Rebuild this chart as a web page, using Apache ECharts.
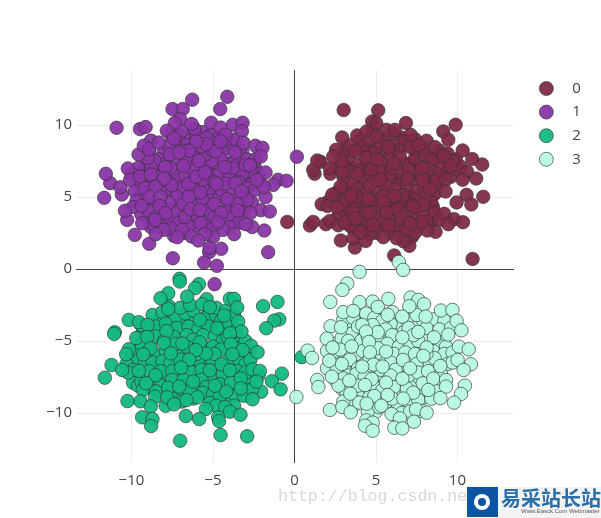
<!DOCTYPE html>
<html><head><meta charset="utf-8">
<style>html,body{margin:0;padding:0;background:#fff}#c{width:601px;height:518px}</style>
<script src="https://cdn.jsdelivr.net/npm/echarts@6/dist/echarts.min.js"></script>
</head><body><div id="c"></div>
<script>
const seriesNames = ['0','1','2','3'];
const seriesColors = ['#7f2b46','#8a36a6','#12b981','#b6fae3'];
const xTicks = [-10,-5,0,5,10];
const yTicks = [-10,-5,0,5,10];
const xRange = [-13.4,13.47];
const yRange = [-13.47,13.8];

const points0 = [
[3.5,8.2],[2.9,7.9],[3.4,7.0],[3.1,5.8],[2.6,5.3],[2.9,4.4],[3.5,4.3],[3.3,3.5],[3.6,2.8],[4.2,3.0],[4.1,3.9],[4.7,4.4],[4.1,4.8],[4.1,5.7],[3.6,5.6],[4.9,6.2],[4.4,7.2],[4.8,7.3],[5.5,8.2],[5.7,7.0],[5.5,6.6],[5.6,5.4],[5.9,5.2],[6.3,6.2],[6.6,6.1],[7.3,6.2],[7.1,7.3],[7.7,7.3],[8.4,7.1],[8.3,6.3],[9.0,6.5],[9.4,6.7],[9.4,7.5],[8.8,7.7],[8.2,8.0],[7.5,8.1],[6.5,8.4],[6.0,8.3],[4.7,8.3],[4.3,8.1],[4.8,9.6],[5.5,9.0],[6.6,9.1],[7.4,9.0],[8.4,5.0],[7.7,5.1],[7.2,5.0],[6.4,4.5],[5.9,4.4],[5.2,4.0],[5.4,3.4],[6.5,3.0],[7.6,2.9],[7.2,2.2],[6.6,2.5],[5.9,2.5],[5.2,3.0],[4.3,2.8],[4.4,3.6],[3.9,4.1],[8.4,3.4],[8.5,4.3],[7.7,4.3],[6.9,3.6],[6.3,3.9],
[4.2,8.6],[4.9,8.1],[3.3,7.6],[3.9,7.2],[4.4,7.7],[5.4,7.4],[5.9,7.9],[6.8,7.3],[7.4,7.7],[8.0,7.9],[8.5,7.5],[9.0,7.0],[8.7,6.6],[8.2,6.9],[7.4,6.7],[6.5,6.7],[5.8,6.4],[5.2,6.8],[4.3,6.3],[3.5,6.0],[3.0,6.4],[2.6,7.0],[3.2,5.2],[3.9,5.5],[4.4,5.2],[5.0,5.5],[5.6,5.8],[6.2,5.5],[6.9,5.6],[7.5,5.4],[8.0,5.7],[8.6,5.2],[8.8,5.9],[9.6,6.4],[10.0,6.9],[9.9,7.6],[10.2,7.1],[8.4,4.6],[8.0,4.9],[7.4,4.8],[6.7,4.6],[6.0,4.8],[5.2,4.3],[4.9,4.8],[4.2,4.3],[3.7,4.6],[3.1,4.0],[2.7,3.7],[3.4,3.0],[4.0,3.5],[4.5,3.3],[5.1,3.6],[5.5,3.2],[6.0,3.5],[6.2,3.0],[6.8,3.0],[7.4,3.7],[7.9,3.8],[8.6,3.9],[8.1,3.3],[8.9,3.4],[7.4,2.5],[6.9,2.7],[5.0,2.5],[4.6,2.4],[4.4,3.9],[5.8,4.2],[6.3,4.1],[7.0,4.0],[3.6,3.9],[3.0,4.7],[2.4,4.9],[2.1,4.7],[4.0,8.9],[4.6,9.0],[5.3,8.7],[6.2,8.9],[6.8,8.9],[7.3,8.4],[7.9,8.4],[8.9,8.2],[9.4,8.0],[9.7,7.5],[3.1,8.3],[3.4,8.6],[3.0,7.2],[2.2,6.6],[4.6,6.6],[6.0,7.0],[7.0,6.9],[7.8,6.4],[8.7,6.1],[5.4,5.0],[6.8,5.1],[7.2,4.4],[3.8,5.0],[3.3,6.8],[4.0,6.8],
[3.02,11.02],[5.14,11.0],[6.84,10.12],[9.89,10.0],[9.13,9.54],[9.44,8.96],[4.77,10.23],[5.02,10.12],[2.93,9.12],[3.85,9.26],[6.06,9.42],[8.11,8.89],[8.62,8.45],[10.32,8.22],[10.91,7.62],[11.52,7.24],[10.6,6.74],[11.15,6.27],[10.32,6.18],[9.29,6.18],[9.27,5.37],[10.56,5.14],[11.58,5.0],[9.95,4.61],[10.85,4.47],[9.19,3.82],[9.8,3.45],[10.34,3.24],[9.44,3.1],[8.66,2.57],[8.15,2.66],[7.8,3.26],[7.05,1.6],[6.68,1.92],[6.12,0.93],[10.93,0.69],[2.85,1.97],[3.71,1.48],[4.37,1.94],[3.61,2.13],[-0.44,3.26],[0.95,3.01],[1.15,3.26],[1.93,3.1],[2.18,3.33],[2.69,3.03],[3.1,3.22],[3.75,3.5],[1.67,4.49],[2.03,4.37],[2.32,5.16],[2.63,4.26],[2.83,5.72],[3.47,5.09],[1.24,6.6],[1.15,6.87],[1.6,7.43],[1.4,7.52],[2.18,6.97],[2.93,6.76],[2.91,7.48],[2.55,8.26],[2.38,7.8],[3.75,8.15],[3.88,6.57],[4.71,6.92],[5.24,6.18],[5.08,7.62],[5.76,8.45],[6.47,7.8],[7.09,8.45],[6.1,7.34],[6.92,6.23],[7.86,6.18],[7.82,7.0],[8.31,5.55],[9.17,7.85],[9.58,7.18],[6.61,5.07],[6.16,5.07],[5.49,4.65],[4.53,4.84],[4.63,5.79],[7.9,4.44],[7.29,4.33],[4.63,3.87],[5.65,3.91],[6.57,3.56],[4.8,3.05],[5.76,2.99],[4.02,2.52],[7.09,3.17],[5.45,2.2],[6.27,2.13],[7.6,8.6],[4.43,9.54],[5.65,9.65],[6.17,9.65],[7.13,9.3],[5.04,9.19]
];
const points1 = [
[-9.0,6.7],[-9.5,6.0],[-9.0,5.8],[-8.2,6.8],[-7.6,6.6],[-7.1,7.0],[-6.5,7.0],[-5.8,7.0],[-5.3,7.1],[-4.8,7.2],[-4.3,7.4],[-3.5,7.6],[-3.3,7.0],[-2.9,6.4],[-3.7,6.6],[-4.2,6.5],[-4.8,6.5],[-5.9,5.9],[-6.6,6.2],[-7.2,6.0],[-7.5,5.4],[-6.9,5.2],[-6.2,5.2],[-5.6,5.1],[-5.1,5.1],[-4.6,5.0],[-4.0,4.5],[-3.5,5.0],[-3.0,5.2],[-2.6,4.6],[-3.0,4.3],[-3.7,3.2],[-4.2,4.1],[-5.0,4.2],[-5.3,3.4],[-5.4,3.0],[-6.0,3.0],[-6.3,3.5],[-6.6,4.0],[-7.2,4.4],[-7.8,4.2],[-8.2,3.9],[-8.0,3.3],[-7.4,3.6],[-7.0,2.9],[-6.7,2.5],[-8.9,3.5],[-9.4,3.8],[-9.0,4.5],[-9.2,6.9],[-8.5,7.4],[-8.0,8.1],[-7.2,8.5],[-7.0,9.0],[-6.6,9.1],[-6.1,9.5],[-5.6,9.5],[-5.1,9.3],[-4.6,9.2],[-5.6,8.2],[-4.4,8.5],[-3.2,8.2],[-3.6,7.7],[-2.4,7.0],[-2.2,6.6],[-2.6,5.9],
[-8.9,8.2],[-8.3,7.6],[-7.7,8.6],[-7.1,9.3],[-6.6,8.6],[-6.0,9.2],[-5.4,9.1],[-4.9,8.7],[-4.3,8.3],[-3.9,8.7],[-3.4,8.2],[-2.9,7.6],[-2.4,7.6],[-2.7,6.8],[-3.2,6.6],[-3.8,7.3],[-4.5,7.6],[-5.1,7.5],[-5.5,7.9],[-6.2,7.7],[-6.7,7.4],[-7.4,7.6],[-8.1,7.2],[-8.6,7.5],[-9.1,7.2],[-9.6,7.0],[-10.0,6.6],[-9.2,6.4],[-8.6,6.0],[-7.9,5.5],[-7.3,6.5],[-6.7,6.5],[-6.2,6.9],[-5.2,6.5],[-4.6,6.6],[-4.0,6.3],[-3.4,6.0],[-2.9,5.6],[-2.4,5.5],[-2.1,6.0],[-2.9,4.8],[-3.5,4.5],[-4.0,5.4],[-4.5,5.5],[-5.2,5.6],[-5.6,5.7],[-6.3,5.6],[-6.8,5.6],[-7.2,5.0],[-7.7,4.6],[-8.6,4.7],[-9.4,5.3],[-9.8,5.4],[-9.7,4.7],[-9.9,4.3],[-8.9,4.0],[-8.5,3.6],[-7.6,3.4],[-7.2,3.9],[-6.8,4.5],[-6.1,4.4],[-5.6,4.7],[-5.3,4.1],[-4.9,3.6],[-4.3,3.5],[-3.8,3.6],[-3.1,3.9],[-3.4,3.2],[-4.0,2.9],[-4.4,2.7],[-5.1,2.7],[-5.0,2.2],[-6.5,3.0],[-7.1,3.2],[-7.4,2.3],[-7.6,2.8],[-8.8,2.9],[-8.6,3.0],[-6.7,3.6],[-5.9,3.6],[-8.2,5.7],[-7.7,6.0],[-6.5,5.9],[-5.6,6.2],[-4.9,6.0],[-4.2,5.9],[-3.8,7.0],[-3.0,7.2],[-8.8,7.0],[-9.0,7.7],[-7.6,7.0],[-6.9,8.2],[-6.2,8.3],[-5.7,8.5],[-5.0,8.2],[-4.1,9.0],[-3.6,9.0],[-7.6,9.4],[-6.9,9.6],[-8.8,8.9],
[-4.12,11.94],[-6.27,11.74],[-4.55,11.09],[-7.48,11.09],[-6.85,11.09],[-7.01,10.39],[-7.34,10.12],[-10.91,9.79],[-9.48,9.7],[-9.13,9.84],[-7.83,9.58],[-6.15,9.75],[-6.31,10.05],[-5.11,10.14],[-4.53,9.81],[-3.78,10.0],[-3.18,10.14],[-3.22,9.56],[-4.23,9.3],[-3.12,8.75],[-2.39,8.54],[-1.96,8.4],[-2.06,7.8],[0.15,7.78],[-1.77,6.69],[-1.0,6.18],[-0.48,6.11],[-1.3,5.83],[-1.77,4.98],[-1.88,5.67],[-2.06,4.07],[-1.51,3.98],[-2.71,3.87],[-1.85,2.66],[-2.59,2.9],[-1.61,1.16],[-3.7,2.41],[-4.49,1.39],[-5.23,1.16],[-5.21,1.46],[-5.54,0.44],[-4.76,0.21],[-7.46,0.74],[-8.91,1.74],[-9.79,2.36],[-10.26,3.4],[-10.4,4.03],[-11.67,4.93],[-10.59,5.16],[-11.3,5.95],[-11.57,6.6],[-10.22,6.97],[-10.67,5.67],[-10.08,6.18],[-9.48,6.41],[-9.56,7.94],[-9.24,8.54],[-8.91,8.31],
[-7.64,7.94],[-7.93,7.06],[-6.8,7.15],[-5.86,7.5],[-4.27,7.06],[-3.65,8.08],[-4.84,8.17],[-5.41,8.66],[-4.53,8.84],[-6.03,8.84],[-7.4,9.05],[-8.32,8.77],[-6.48,8.2],[-7.07,8.08],[-2.73,7.18],[-2.32,6.18],[-3.63,5.95],[-4.78,5.9],[-6.03,6.39],[-5.5,6.69],[-7.54,5.81],[-8.01,6.27],[-8.81,6.55],[-9.16,5.6],[-8.54,5.69],[-8.89,5.0],[-8.21,5.0],[-9.38,4.37],[-8.26,4.37],[-6.48,5.0],[-5.76,5.3],[-4.92,4.51],[-4.12,4.84],[-3.25,5.39],[-3.49,4.05],[-4.49,3.87],[-6.37,4.14],[-5.8,4.1],[-7.91,3.87],[-8.54,3.4],[-9.34,3.17],[-8.01,2.71],[-6.89,2.71],[-5.76,3.17],[-4.7,3.22],[-3.0,3.1],[-5.5,2.41],[-6.31,2.24],[-7.19,2.2],[-5.9,1.97],[-8.5,2.41],[-4.9,-1.06]
];
const points2 = [
[-8.3,-3.6],[-7.6,-3.5],[-6.9,-3.7],[-6.3,-3.5],[-5.5,-3.4],[-5.0,-3.8],[-4.3,-4.2],[-3.7,-4.8],[-3.3,-5.7],[-4.6,-5.2],[-4.2,-5.5],[-4.9,-6.3],[-5.5,-6.5],[-5.9,-6.7],[-6.5,-6.5],[-6.0,-5.0],[-6.5,-5.2],[-7.2,-5.1],[-7.7,-5.2],[-7.5,-4.3],[-8.3,-4.3],[-8.9,-5.2],[-9.0,-6.2],[-8.5,-6.2],[-8.6,-6.9],[-7.9,-6.8],[-7.2,-6.7],[-7.5,-6.0],[-6.9,-6.0],[-6.4,-5.8],[-5.7,-5.6],[-5.2,-5.5],[-4.5,-4.4],[-3.5,-5.7],[-3.6,-6.7],[-4.2,-6.8],[-4.8,-7.0],[-5.4,-7.3],[-6.0,-7.5],[-6.6,-7.4],[-7.1,-7.4],[-7.9,-7.4],[-8.4,-7.8],[-8.8,-8.2],[-8.0,-8.5],[-7.3,-8.6],[-6.6,-8.1],[-6.1,-8.4],[-5.4,-8.7],[-4.4,-7.6],[-3.9,-8.3],[-3.2,-7.1],[-2.9,-7.8],[-4.9,-9.0],[-4.3,-9.1],[-6.2,-9.0],[-6.9,-8.8],[-7.9,-9.5],[-2.9,-8.4],[-9.8,-6.0],[-9.7,-5.7],[-9.9,-7.9],[-9.6,-8.1],[-5.0,-8.6],[-5.6,-4.0],
[-8.7,-3.2],[-8.1,-3.0],[-7.3,-3.4],[-6.7,-3.1],[-6.2,-2.9],[-5.3,-3.3],[-4.8,-3.2],[-8.5,-4.0],[-7.9,-3.8],[-7.2,-4.1],[-6.5,-4.0],[-5.9,-4.2],[-5.3,-4.0],[-4.5,-3.6],[-4.0,-3.8],[-3.6,-4.3],[-9.3,-4.4],[-8.5,-4.7],[-8.0,-5.0],[-7.4,-4.7],[-6.6,-4.6],[-6.2,-4.9],[-5.6,-4.6],[-4.9,-4.7],[-4.4,-5.0],[-3.4,-5.2],[-3.0,-5.0],[-9.4,-5.2],[-8.6,-5.9],[-7.9,-5.7],[-7.1,-5.7],[-6.6,-5.4],[-5.8,-5.1],[-5.0,-5.4],[-4.5,-5.6],[-3.6,-5.5],[-2.9,-5.9],[-9.6,-6.4],[-9.2,-6.6],[-8.7,-6.5],[-8.1,-6.4],[-7.6,-6.5],[-7.0,-6.3],[-5.9,-6.3],[-5.1,-6.2],[-4.9,-5.9],[-4.0,-6.3],[-3.4,-6.3],[-3.0,-6.6],[-2.7,-6.3],[-10.3,-6.6],[-9.9,-7.0],[-8.9,-7.1],[-8.2,-7.1],[-7.5,-7.1],[-6.4,-7.1],[-5.7,-7.0],[-5.0,-7.5],[-4.4,-7.3],[-3.5,-7.1],[-3.0,-7.2],[-9.4,-7.8],[-8.7,-7.8],[-8.2,-8.1],[-7.5,-7.7],[-6.8,-7.7],[-5.7,-7.7],[-5.4,-8.2],[-4.6,-8.0],[-3.9,-7.9],[-3.3,-7.6],[-9.3,-8.4],[-8.5,-8.5],[-7.0,-8.5],[-6.4,-8.5],[-5.6,-8.6],[-5.0,-8.7],[-4.6,-8.9],[-3.6,-8.8],[-3.1,-8.8],[-7.5,-9.0],[-6.9,-9.2],[-5.2,-9.3],[-4.8,-9.5],[-3.7,-9.5],[-9.7,-4.8],[-9.4,-3.9],[-7.7,-2.6],[-7.0,-2.7],[-6.4,-2.5],[-4.8,-2.7],[-4.2,-2.9],[-3.7,-3.2],[-2.2,-7.4],[-10.2,-7.2],[-6.0,-5.9],[-7.3,-5.2],[-4.1,-4.7],
[-7.05,-0.69],[-7.03,-0.88],[-5.86,-1.06],[-6.09,-1.34],[-7.74,-1.69],[-8.21,-2.04],[-6.58,-1.92],[-5.39,-2.11],[-3.96,-2.08],[-3.7,-2.08],[-3.51,-2.68],[-1.92,-2.59],[-1.04,-2.29],[-0.93,-3.5],[-1.24,-3.59],[-1.73,-4.12],[-10.16,-3.54],[-11.02,-4.4],[-11.06,-4.51],[-9.54,-3.7],[-9.01,-3.89],[-9.03,-4.72],[-7.85,-4.31],[-7.74,-2.78],[-5.66,-2.45],[-5.19,-2.66],[-4.31,-3.24],[-5.8,-3.54],[-4.74,-4.12],[-3.45,-3.66],[-3.25,-4.35],[-3.96,-4.47],[-3.9,-5.23],[-2.65,-5.35],[-2.26,-5.79],[-3.18,-5.63],[-3.8,-5.93],[-4.47,-6.62],[-5.43,-5.88],[-6.05,-5.63],[-6.87,-5.18],[-8.01,-5.14],[-8.83,-5.51],[-10.16,-5.58],[-10.32,-5.93],[-9.28,-5.93],[-7.58,-5.86],[-6.46,-6.3],[-6.95,-6.85],[-11.22,-6.67],[-10.57,-7.01],[-11.63,-7.55],[-9.54,-7.08],[-8.52,-7.38],[-9.11,-7.94],[-7.74,-8.24],[-7.07,-8.17],[-6.21,-7.82],[-5.19,-7.04],[-3.96,-7.04],[-2.57,-6.97],[-2.12,-7.08],[-0.77,-7.27],[-1.38,-7.8],[-0.85,-8.36],[-2.04,-8.52],[-2.59,-8.36],[-2.33,-7.82],[-3.29,-8.29],[-4.19,-8.52],[-4.88,-8.1],[-5.96,-8.91],[-6.62,-9.1],[-8.56,-8.87],[-7.8,-8.91],[-10.24,-9.17],[-9.44,-9.19],[-8.81,-9.54],[-7.38,-9.4],[-5.43,-9.72],[-4.25,-9.58],[-3.96,-9.91],[-3.31,-10.12],[-2.57,-9.05],[-6.66,-10.21],[-5.84,-10.42],[-4.68,-10.3],[-4.62,-10.56],[-9.34,-10.3],[-8.71,-10.42],[-8.79,-10.9],[-7.01,-11.92],[-4.53,-11.53],[-2.9,-11.62],[0.44,-6.13]
];
const points3 = [
[3.2,-4.3],[3.7,-3.8],[4.4,-3.6],[5.2,-3.0],[5.3,-3.8],[6.2,-3.5],[6.3,-4.2],[6.6,-3.9],[7.4,-3.7],[7.9,-3.6],[8.4,-4.4],[9.2,-4.7],[9.1,-5.0],[8.4,-5.1],[7.9,-5.2],[7.0,-4.7],[6.8,-5.2],[6.0,-5.2],[5.4,-4.7],[4.9,-4.7],[4.3,-5.3],[3.7,-5.3],[3.1,-5.5],[2.5,-5.2],[2.5,-6.2],[3.1,-6.2],[3.8,-6.4],[4.4,-6.2],[5.2,-6.2],[5.6,-6.3],[6.4,-6.7],[6.8,-6.7],[7.4,-6.4],[8.0,-6.5],[9.1,-6.2],[8.9,-7.0],[8.3,-7.6],[7.4,-7.9],[6.9,-7.8],[6.3,-7.5],[5.7,-7.0],[4.7,-7.1],[4.4,-7.1],[3.6,-7.2],[3.1,-7.1],[2.9,-8.3],[3.5,-8.2],[4.1,-8.4],[5.1,-7.9],[5.9,-8.0],[6.4,-8.5],[7.3,-8.1],[8.0,-8.9],[8.6,-8.0],[5.6,-9.3],[5.0,-9.9],[6.3,-9.3],[7.0,-9.2],[3.6,-9.5],[4.1,-7.9],[3.3,-3.9],[4.7,-4.3],[5.9,-3.8],[6.7,-4.4],[8.2,-4.7],[8.8,-4.8],[7.2,-5.6],[6.5,-6.1],[5.4,-6.0],[4.1,-6.5],[3.3,-5.9],[2.4,-6.6],[3.3,-7.4],[4.9,-7.6],[6.6,-7.1],[7.8,-6.9],[8.7,-7.3],[7.7,-7.6],[6.6,-8.9],[5.5,-7.6],[4.6,-8.4],[3.2,-8.6],
[3.0,-3.5],[3.6,-3.4],[4.4,-3.1],[4.9,-3.4],[5.4,-3.6],[6.0,-3.0],[6.9,-3.5],[7.5,-3.2],[8.6,-3.5],[9.2,-3.6],[3.5,-4.5],[3.9,-4.0],[4.8,-3.9],[5.6,-4.2],[6.0,-4.6],[7.0,-4.1],[8.1,-4.1],[8.9,-4.2],[9.6,-4.1],[2.9,-4.8],[3.3,-5.0],[4.1,-5.0],[5.2,-5.1],[5.7,-5.2],[6.4,-5.4],[7.1,-5.2],[7.6,-5.0],[8.7,-5.2],[9.3,-5.4],[2.0,-5.7],[2.8,-5.6],[3.8,-5.9],[4.2,-5.7],[5.0,-5.9],[6.1,-5.9],[6.8,-5.8],[7.4,-5.9],[8.5,-5.7],[9.2,-5.9],[9.7,-5.8],[2.0,-6.9],[2.6,-6.9],[3.4,-6.3],[3.9,-6.9],[4.6,-6.3],[5.9,-6.5],[6.2,-7.0],[7.5,-6.6],[8.3,-6.6],[8.6,-6.2],[9.4,-6.6],[9.7,-6.5],[2.5,-7.7],[3.0,-7.6],[3.8,-7.3],[4.3,-7.5],[5.1,-7.3],[5.3,-7.0],[5.9,-7.4],[7.0,-7.4],[7.6,-7.2],[8.2,-7.1],[9.0,-7.3],[2.7,-8.1],[3.9,-8.1],[4.9,-8.2],[5.4,-8.4],[6.1,-8.2],[6.9,-8.3],[7.9,-8.4],[8.7,-8.5],[3.0,-9.2],[4.6,-8.9],[5.1,-9.3],[6.0,-9.0],[7.6,-9.1],[8.4,-9.0],[4.5,-9.9],[5.2,-9.6],[6.6,-10.0],[7.1,-9.9],[3.0,-3.0],[5.1,-5.5],[7.3,-4.6],[4.5,-4.7],[8.1,-5.9],
[4.0,-0.21],[6.4,0.48],[6.67,-0.07],[3.24,-1.02],[2.94,-1.46],[2.2,-2.29],[5.76,-2.08],[4.0,-2.31],[4.8,-2.27],[5.11,-2.64],[3.61,-2.92],[7.13,-1.99],[7.6,-2.15],[7.95,-2.45],[7.05,-2.59],[8.99,-2.89],[9.69,-2.85],[8.05,-3.31],[6.62,-3.31],[5.72,-3.19],[9.95,-3.61],[10.24,-4.26],[9.44,-4.56],[2.22,-3.98],[2.86,-4.05],[4.16,-3.89],[5.11,-4.4],[4.39,-4.35],[7.6,-4.38],[6.62,-4.75],[8.56,-4.75],[1.98,-4.84],[2.34,-5.46],[3.51,-5.39],[4.57,-5.07],[5.62,-5.74],[4.63,-5.79],[8.11,-5.46],[7.91,-6.04],[10.09,-5.39],[10.69,-5.58],[10.01,-6.32],[10.83,-6.62],[10.38,-7.01],[8.95,-6.74],[6.66,-6.32],[4.86,-6.64],[2.9,-6.6],[2.14,-6.37],[4.16,-6.78],[7.09,-6.9],[0.81,-5.67],[1.08,-6.18],[2.3,-7.48],[3.37,-7.75],[4.74,-7.64],[5.62,-7.89],[6.62,-7.62],[7.87,-7.94],[8.52,-7.62],[9.3,-7.71],[9.3,-8.17],[10.46,-8.1],[10.22,-8.68],[9.79,-9.28],[8.95,-8.96],[8.21,-8.4],[7.29,-8.59],[1.4,-7.71],[1.47,-8.2],[0.12,-8.89],[3.43,-8.66],[4.9,-8.82],[5.72,-8.75],[6.68,-9.0],[4.33,-8.06],[2.18,-9.79],[2.94,-9.58],[3.45,-9.95],[3.98,-9.28],[4.43,-9.35],[5.33,-9.49],[5.96,-10.07],[7.82,-9.86],[7.46,-9.75],[8.11,-9.98],[7.33,-10.6],[6.47,-10.37],[4.41,-10.51],[4.8,-10.67],[4.33,-10.88],[4.8,-11.23],[6.13,-11.02],[6.62,-11.07],[5.41,-6.78]
];
const allPoints = [points0, points1, points2, points3];

const font = '"Open Sans", sans-serif';
const axisCommon = {
  type:'value', axisLine:{show:false,onZero:false},
  splitLine:{show:true,lineStyle:{color:'#eeeeee',width:1}}
};
const fmt = v => String(v).replace('-', '\u2212');
const chart = echarts.init(document.getElementById('c'), null, {renderer:'canvas'});
chart.setOption({
  animation:false, backgroundColor:'#fff',
  grid:{left:76,right:87,top:70,bottom:55},
  xAxis:Object.assign({}, axisCommon, {min:xRange[0],max:xRange[1],
    axisLabel:{customValues:xTicks,formatter:fmt,color:'#444',fontFamily:font,fontSize:15,margin:10},
    axisTick:{show:false,customValues:xTicks}}),
  yAxis:Object.assign({}, axisCommon, {min:yRange[0],max:yRange[1],
    axisLabel:{customValues:yTicks,formatter:fmt,color:'#444',fontFamily:font,fontSize:15,margin:4,align:'right',padding:[3,0,0,0]},
    axisTick:{show:false,customValues:yTicks}}),
  legend:{orient:'vertical',left:534,top:76,itemWidth:14,itemHeight:14,itemGap:8.6,icon:'circle',
    itemStyle:{borderWidth:0.7,borderColor:'#333'},
    data:seriesNames,textStyle:{color:'#444',fontFamily:font,fontSize:15,lineHeight:14,padding:[0,0,0,14]}},
  series:seriesNames.map((n,i)=>({
    name:n,type:'scatter',data:allPoints[i],symbolSize:13.5,z:3+i,
    itemStyle:{color:seriesColors[i],borderColor:'#333333',borderWidth:0.7,opacity:0.95},
    markLine:i===0?{silent:true,symbol:'none',z:1,label:{show:false},animation:false,
      lineStyle:{color:'#444',width:1,type:'solid'},data:[{xAxis:0},{yAxis:0}]}:undefined
  })),
  graphic:[
    {type:'text',left:278,top:488,silent:true,style:{text:'http://blog.csdn.net',fontFamily:'"Liberation Mono",monospace',fontSize:16.6,fill:'#d8d8d8'}},
    {type:'rect',shape:{x:498,y:487,width:103,height:31},style:{fill:'#f3f3f3'}},
    {type:'rect',shape:{x:467,y:487,width:31,height:30},style:{fill:'#0b55a3'}},
    {type:'circle',shape:{cx:482,cy:502,r:8},style:{fill:'#fff'}},
    {type:'circle',shape:{cx:482,cy:502,r:4},style:{fill:'#0b55a3'}},
    {type:'text',left:501,top:488,style:{text:'易采站长站',fontFamily:'"Noto Sans CJK SC"',fontSize:20,fontWeight:'bold',fill:'#2b6ea8'}},
    {type:'text',left:521,top:508,style:{text:'Www.Easck.Com Webmaster',fontFamily:'"Liberation Sans"',fontSize:6,fill:'#555'}}
  ]
});
</script></body></html>
